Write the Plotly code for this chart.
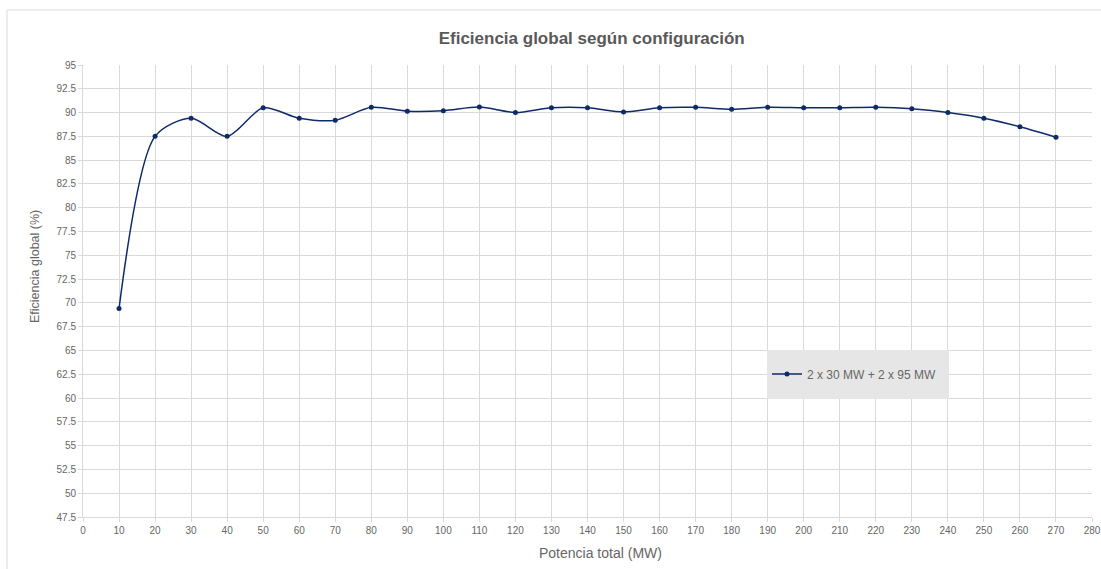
import plotly.graph_objects as go

# Potencia total (MW) y eficiencia global (%) para la configuración 2 x 30 MW + 2 x 95 MW
potencia_mw = [10, 20, 30, 40, 50, 60, 70, 80, 90, 100, 110, 120, 130, 140,
               150, 160, 170, 180, 190, 200, 210, 220, 230, 240, 250, 260, 270]
eficiencia_pct = [69.4, 87.5, 89.4, 87.5, 90.5, 89.4, 89.2, 90.55, 90.15, 90.2,
                  90.58, 90.0, 90.5, 90.5, 90.07, 90.5, 90.55, 90.35, 90.55, 90.5,
                  90.5, 90.55, 90.4, 90.0, 89.4, 88.5, 87.4]
serie_nombre = "2 x 30 MW + 2 x 95 MW"

x_ticks = list(range(0, 281, 10))
y_ticks = [47.5 + 2.5 * i for i in range(20)]

FONT = "Liberation Sans, Arial, sans-serif"
GRID = "#d9d9d9"
TEXT = "#666666"
LINE = "#0e2a6b"

# plot area geometry (px) used to place paper-referenced items
L, R, T, B = 83.0, 1092.0, 65.0, 517.0
PW, PH = R - L, B - T


def px(xp):
    return (xp - L) / PW


def py(yp):
    return (B - yp) / PH


fig = go.Figure()
fig.add_trace(go.Scatter(
    x=potencia_mw, y=eficiencia_pct, name=serie_nombre,
    mode="lines+markers",
    line=dict(color=LINE, width=1.5, shape="spline", smoothing=0.8),
    marker=dict(color=LINE, size=5),
))

fig.update_layout(
    width=1101, height=569,
    margin=dict(l=83, r=9, t=65, b=52, autoexpand=False),
    paper_bgcolor="white", plot_bgcolor="white",
    font=dict(family=FONT, color=TEXT, size=10),
    title=dict(text="<b>Eficiencia global según configuración</b>",
               x=px(591.7), xref="paper", xanchor="center",
               y=1 - 38 / 569, yanchor="middle",
               font=dict(size=17, color="#595959", family=FONT)),
    xaxis=dict(range=[-0.001, 280.001], tickvals=x_ticks, showgrid=True,
               gridcolor=GRID, gridwidth=1, zeroline=False, showline=True,
               linecolor=GRID, ticks="outside", ticklen=4, tickcolor=GRID,
               automargin=False, tickfont=dict(size=10, color=TEXT)),
    yaxis=dict(range=[47.5, 95], tickvals=y_ticks, showgrid=True, gridcolor=GRID,
               gridwidth=1, zeroline=False, showline=True, linecolor=GRID,
               ticks="outside", ticklen=4, tickcolor=GRID,
               automargin=False, tickfont=dict(size=10, color=TEXT)),
    annotations=[
        dict(text="Potencia total (MW)", xref="paper", yref="paper",
             x=px(600), y=py(553), xanchor="center", yanchor="middle",
             showarrow=False, font=dict(size=14, color=TEXT, family=FONT)),
        dict(text="Eficiencia global (%)", xref="paper", yref="paper",
             x=px(35), y=py(267), xanchor="center", yanchor="middle",
             textangle=-90, showarrow=False,
             font=dict(size=12.5, color=TEXT, family=FONT)),
    ],
    showlegend=True,
    legend=dict(x=px(767), y=py(374), xanchor="left", yanchor="middle",
                bgcolor="rgba(0,0,0,0)", itemwidth=30,
                font=dict(size=12, color=TEXT, family=FONT)),
    shapes=[
        # marco exterior del gráfico
        dict(type="rect", xref="paper", yref="paper",
             x0=px(7), x1=px(1120), y0=py(600), y1=py(10),
             line=dict(color="#d9d9d9", width=1), fillcolor="rgba(0,0,0,0)",
             layer="below"),
        # fondo de la leyenda
        dict(type="rect", xref="paper", yref="paper",
             x0=px(767), x1=px(949), y0=py(399), y1=py(350),
             line=dict(width=0), fillcolor="#e6e6e6", layer="above"),
    ],
)

fig.write_html("out.html")
